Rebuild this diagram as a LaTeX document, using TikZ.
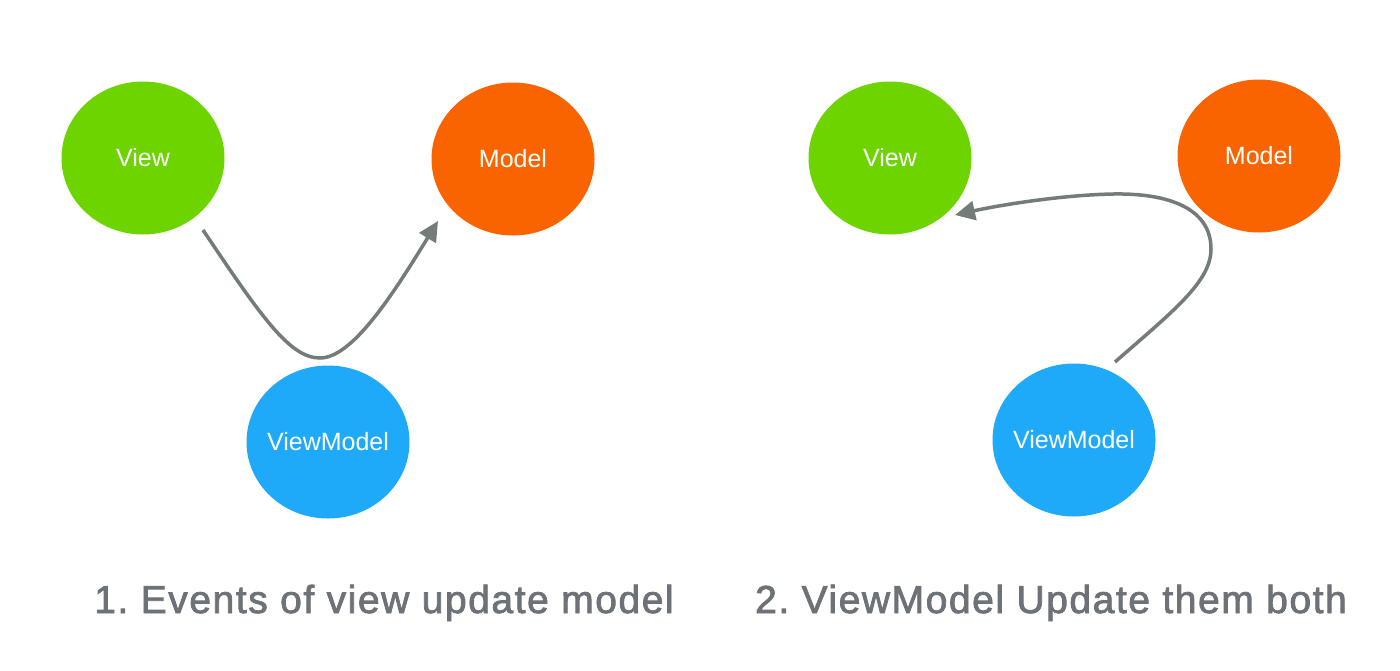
\documentclass[tikz,border=0pt]{standalone}
\usepackage{fontspec}
\setmainfont{Liberation Sans}
\newfontfamily\capfont[FakeBold=2,LetterSpace=4]{Liberation Sans}
\usetikzlibrary{arrows.meta,shapes.geometric}
\definecolor{cgreen}{HTML}{6DD400}
\definecolor{corange}{HTML}{FA6400}
\definecolor{cblue}{HTML}{1FAAF9}
\definecolor{carrow}{HTML}{737B7B}
\definecolor{ccap}{HTML}{6D7278}
\frenchspacing
\begin{document}
\begin{tikzpicture}[x=1pt,y=-1pt,
  bub/.style={ellipse,minimum width=163pt,minimum height=153pt,inner sep=0pt,
    label={[text=white,font=\fontsize{25}{25}\selectfont,inner sep=0pt]center:#1}},
  conn/.style={draw=carrow,line width=3.5pt,-{Triangle[length=20pt,width=19pt]}},
  captext/.style={text=ccap,font=\capfont\fontsize{39}{39}\selectfont,anchor=base}]
\useasboundingbox (0,0) rectangle (1400,670);
\node[bub=View,fill=cgreen] (v1) at (143,158) {};
\node[bub=Model,fill=corange] (m1) at (513,159) {};
\node[bub=ViewModel,fill=cblue] (vm1) at (328,442) {};
\node[bub=View,fill=cgreen] (v2) at (890,158) {};
\node[bub=Model,fill=corange] (m2) at (1259,156) {};
\node[bub=ViewModel,fill=cblue] (vm2) at (1074,440) {};
\coordinate (a1s) at (203,230);
\coordinate (a1e) at (438,221);
\coordinate (a2s) at (1115,362);
\coordinate (a2e) at (955,215);
\draw[conn] (a1s) .. controls (262,318) and (290,358) .. (320,358) .. controls (352,358) and (392,296) .. (a1e);
\draw[conn] (a2s) .. controls (1172,312) and (1211,282) .. (1211,249) .. controls (1211,208) and (1168,193) .. (1113,194) .. controls (1062,195) and (1000,205) .. (a2e);
\node[captext] (c1) at (384,613) {1. Events of view update model};
\node[captext] (c2) at (1051,613) {2. ViewModel Update them both};
\end{tikzpicture}
\end{document}
